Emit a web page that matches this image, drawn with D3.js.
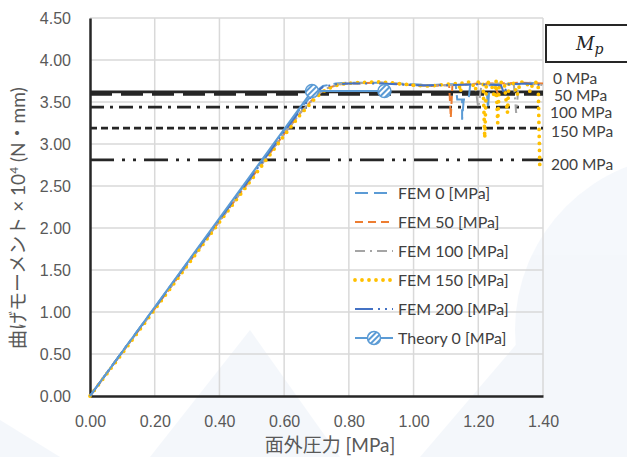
<!DOCTYPE html>
<html>
<head>
<meta charset="utf-8">
<script src="https://cdn.jsdelivr.net/npm/d3@7"></script>
<style>
  body { margin: 0; background: #ffffff; }
  svg { font-family: Lato, "Noto Sans CJK JP", sans-serif; }
  .tick-label { font-size: 16px; fill: #595959; }
  .axis-title { font-size: 19px; fill: #595959; }
  .legend-text { font-size: 16px; fill: #404040; }
  .mpa-label { font-size: 15.5px; fill: #404040; }
</style>
</head>
<body>
<svg id="chart" width="627" height="457"></svg>
<script>
// tick values
const xTicks = [0, 0.2, 0.4, 0.6, 0.8, 1.0, 1.2, 1.4];
const yTicks = [0, 0.5, 1.0, 1.5, 2.0, 2.5, 3.0, 3.5, 4.0, 4.5];

// fully plastic moment Mp for each in-plane stress
const mpNames = ["0 MPa", "50 MPa", "100 MPa", "150 MPa", "200 MPa"];
const mpValues = [3.62, 3.59, 3.44, 3.19, 2.81];

// series (pressure [MPa], moment x10^4 [N·mm])
const fem0 = [[0, 0], [0.1, 0.53], [0.2, 1.05], [0.3, 1.58], [0.4, 2.1], [0.5, 2.63], [0.55, 2.89], [0.6, 3.16],
  [0.65, 3.42], [0.69, 3.6], [0.72, 3.69], [0.76, 3.72], [0.8, 3.73], [0.9, 3.73], [1.0, 3.71], [1.05, 3.7],
  [1.1, 3.71], [1.13, 3.71], [1.135, 3.53], [1.15, 3.53], [1.15, 3.29], [1.155, 3.53], [1.17, 3.53], [1.175, 3.71],
  [1.2, 3.72], [1.225, 3.71], [1.23, 3.42], [1.235, 3.71], [1.28, 3.72], [1.33, 3.71], [1.36, 3.73], [1.4, 3.71]];
const fem50 = [[0, 0], [0.1, 0.52], [0.2, 1.04], [0.3, 1.56], [0.4, 2.08], [0.5, 2.6], [0.55, 2.86], [0.6, 3.12],
  [0.65, 3.37], [0.7, 3.58], [0.73, 3.66], [0.77, 3.71], [0.8, 3.72], [0.9, 3.73], [1.0, 3.7], [1.05, 3.69],
  [1.1, 3.7], [1.11, 3.7], [1.115, 3.31], [1.12, 3.7], [1.2, 3.72], [1.25, 3.72], [1.26, 3.6], [1.27, 3.72],
  [1.33, 3.73], [1.4, 3.72]];
const fem100 = [[0, 0], [0.1, 0.52], [0.2, 1.04], [0.3, 1.56], [0.4, 2.08], [0.5, 2.6], [0.55, 2.86], [0.6, 3.12],
  [0.65, 3.37], [0.7, 3.58], [0.73, 3.66], [0.77, 3.71], [0.8, 3.72], [0.9, 3.73], [1.0, 3.7], [1.05, 3.69],
  [1.1, 3.7], [1.19, 3.71], [1.2, 3.43], [1.21, 3.71], [1.26, 3.72], [1.31, 3.71], [1.317, 3.37], [1.325, 3.71],
  [1.36, 3.72], [1.4, 3.7]];
const fem150 = [[0, 0], [0.1, 0.51], [0.2, 1.03], [0.3, 1.55], [0.4, 2.07], [0.5, 2.58], [0.55, 2.84], [0.6, 3.1],
  [0.65, 3.35], [0.7, 3.56], [0.73, 3.65], [0.77, 3.71], [0.82, 3.73], [0.9, 3.74], [1.0, 3.7], [1.05, 3.69],
  [1.1, 3.71], [1.14, 3.72], [1.145, 3.62], [1.15, 3.73], [1.18, 3.74], [1.19, 3.64], [1.2, 3.74], [1.215, 3.73],
  [1.22, 3.07], [1.225, 3.74], [1.24, 3.72], [1.25, 3.55], [1.255, 3.75], [1.26, 3.25], [1.265, 3.73],
  [1.28, 3.74], [1.29, 3.37], [1.295, 3.74], [1.31, 3.72], [1.32, 3.58], [1.33, 3.74], [1.35, 3.73],
  [1.36, 3.62], [1.37, 3.74], [1.385, 3.73], [1.39, 2.75]];
const fem200 = [[0, 0], [0.1, 0.53], [0.2, 1.05], [0.3, 1.58], [0.4, 2.1], [0.5, 2.62], [0.55, 2.88], [0.6, 3.15],
  [0.65, 3.4], [0.69, 3.59], [0.72, 3.68], [0.76, 3.71], [0.8, 3.72], [0.9, 3.72], [1.0, 3.7], [1.1, 3.7],
  [1.2, 3.71], [1.27, 3.7], [1.28, 3.6], [1.29, 3.71], [1.35, 3.72], [1.4, 3.7]];
const theory0 = [[0, 0], [0.686, 3.63], [0.91, 3.63]];
const theoryMarkers = [[0.686, 3.63], [0.91, 3.63]];

const seriesNames = ["FEM 0 [MPa]", "FEM 50 [MPa]", "FEM 100 [MPa]", "FEM 150 [MPa]", "FEM 200 [MPa]", "Theory 0 [MPa]"];
const seriesData = [fem0, fem50, fem100, fem150, fem200, theory0];
const seriesColors = ["#5b9bd5", "#ed7d31", "#a5a5a5", "#ffc000", "#4472c4", "#5b9bd5"];
const seriesDash = ["13,6", "8,5", "10,5,2,5", "0,7", "18,5,2,5,2,5", null];
const seriesWidth = [2, 2, 2, 3.8, 2, 2];

const svg = d3.select("#chart");
const plotLeft = 90, plotRight = 543, plotTop = 18, plotBottom = 396;

// faint background watermark
const bg = svg.append("g").attr("fill", "#e8eff8").attr("opacity", 0.45);
bg.append("circle").attr("cx", 690).attr("cy", 330).attr("r", 175);
bg.append("polygon").attr("points", "150,457 250,330 340,457");
bg.append("polygon").attr("points", "420,457 520,340 600,457");
bg.append("polygon").attr("points", "0,420 60,457 0,457");

const x = d3.scaleLinear().domain([0, 1.4]).range([plotLeft, plotRight]);
const y = d3.scaleLinear().domain([0, 4.5]).range([plotBottom, plotTop]);

// gridlines
svg.append("g")
    .selectAll("line")
    .data(xTicks.slice(1))
    .join("line")
    .attr("x1", d => x(d)).attr("x2", d => x(d))
    .attr("y1", plotTop).attr("y2", plotBottom)
    .attr("stroke", "#d9d9d9").attr("stroke-width", 1.5);
svg.append("g")
    .selectAll("line")
    .data(yTicks.slice(1))
    .join("line")
    .attr("x1", plotLeft).attr("x2", plotRight)
    .attr("y1", d => y(d)).attr("y2", d => y(d))
    .attr("stroke", "#d9d9d9").attr("stroke-width", 1.5);

// axes
const xAxis = svg.append("g")
    .attr("transform", `translate(0, ${plotBottom})`)
    .call(d3.axisBottom(x).tickValues(xTicks).tickFormat(d3.format(".2f")).tickSize(0).tickPadding(20));
const yAxis = svg.append("g")
    .attr("transform", `translate(${plotLeft}, 0)`)
    .call(d3.axisLeft(y).tickValues(yTicks).tickFormat(d3.format(".2f")).tickSize(0).tickPadding(19));
[xAxis, yAxis].forEach(function (a) {
    a.select(".domain").attr("stroke", "#262626").attr("stroke-width", 2.5);
    a.selectAll("text").attr("class", "tick-label").attr("font-family", null).attr("font-size", null).attr("fill", null);
});

svg.append("text")
    .attr("class", "axis-title")
    .attr("text-anchor", "middle")
    .attr("x", 330).attr("y", 452)
    .text("面外圧力 [MPa]");

const yTitle = svg.append("text")
    .attr("class", "axis-title")
    .attr("text-anchor", "middle")
    .attr("transform", "translate(25, 218) rotate(-90)");
yTitle.append("tspan").text("曲げモーメント × 10");
yTitle.append("tspan").attr("dy", -7).style("font-size", "12px").text("4");
yTitle.append("tspan").attr("dy", 7).text(" (N・mm)");

// Mp reference lines
const mpDash = [null, "22,9", "14,6,3,6", "7,4", "24,8,3,8,3,8"];
svg.append("g")
    .selectAll("line")
    .data(mpValues)
    .join("line")
    .attr("x1", plotLeft).attr("x2", plotRight)
    .attr("y1", d => y(d)).attr("y2", d => y(d))
    .attr("stroke", "#262626")
    .attr("stroke-width", 2.8)
    .attr("stroke-dasharray", (d, i) => mpDash[i]);

const mpLabelY = [79, 96, 113, 132, 165];
const mpLabelX = [553, 554, 550, 551, 551];
svg.append("g")
    .selectAll("text")
    .data(mpNames)
    .join("text")
    .attr("class", "mpa-label")
    .attr("x", (d, i) => mpLabelX[i])
    .attr("y", (d, i) => mpLabelY[i])
    .attr("dy", "0.35em")
    .text(d => d);

// Mp box
svg.append("rect")
    .attr("x", 546).attr("y", 25).attr("width", 90).attr("height", 37)
    .attr("fill", "white").attr("stroke", "#262626").attr("stroke-width", 2);
const mpText = svg.append("text")
    .attr("x", 576).attr("y", 50)
    .attr("font-family", "DejaVu Serif, serif")
    .attr("font-style", "italic")
    .attr("font-size", 18)
    .attr("fill", "#262626");
mpText.append("tspan").text("M");
mpText.append("tspan").attr("dy", 4).attr("font-size", 14).text("p");

// hatched marker pattern
const defs = svg.append("defs");
const pat = defs.append("pattern")
    .attr("id", "hatch")
    .attr("patternUnits", "userSpaceOnUse")
    .attr("width", 4).attr("height", 4)
    .attr("patternTransform", "rotate(45)");
pat.append("rect").attr("width", 4).attr("height", 4).attr("fill", "white");
pat.append("rect").attr("width", 2).attr("height", 4).attr("fill", "#5b9bd5");

// series lines
const line = d3.line().x(d => x(d[0])).y(d => y(d[1]));
seriesData.forEach(function (data, i) {
    svg.append("path")
        .datum(data)
        .attr("fill", "none")
        .attr("stroke", seriesColors[i])
        .attr("stroke-width", seriesWidth[i])
        .attr("stroke-linecap", i === 3 ? "round" : "butt")
        .attr("stroke-dasharray", seriesDash[i])
        .attr("d", line);
});
svg.append("g")
    .selectAll("circle")
    .data(theoryMarkers)
    .join("circle")
    .attr("cx", d => x(d[0])).attr("cy", d => y(d[1]))
    .attr("r", 6.5)
    .attr("fill", "url(#hatch)")
    .attr("stroke", "#5b9bd5").attr("stroke-width", 1.5);

// legend
const legend = svg.append("g");
seriesNames.forEach(function (name, i) {
    const ly = 193 + i * 29;
    legend.append("line")
        .attr("x1", 355).attr("x2", 393)
        .attr("y1", ly).attr("y2", ly)
        .attr("stroke", seriesColors[i])
        .attr("stroke-width", seriesWidth[i])
        .attr("stroke-linecap", i === 3 ? "round" : "butt")
        .attr("stroke-dasharray", seriesDash[i]);
    if (i === 5) {
        legend.append("circle")
            .attr("cx", 374).attr("cy", ly).attr("r", 6.5)
            .attr("fill", "url(#hatch)")
            .attr("stroke", "#5b9bd5").attr("stroke-width", 1.5);
    }
    legend.append("text")
        .attr("class", "legend-text")
        .attr("x", 398).attr("y", ly)
        .attr("dy", "0.35em")
        .text(name);
});
</script>
</body>
</html>
